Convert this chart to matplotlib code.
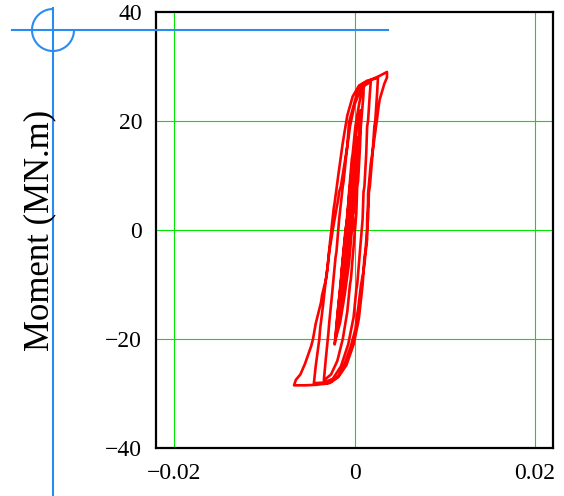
import matplotlib.pyplot as plt
from matplotlib.lines import Line2D
from matplotlib.patches import Arc

# rotation in units of 1e-3, moment in MN.m
rot_milli = [
    0.0, -0.3, 0.1, 0.3, 0.1, -0.4, -0.9, -1.2, -1.0, -0.6,
    -0.2, 0.2, 0.5, 0.3, -0.2, -0.7, -1.2, -1.6, -1.4, -1.1,
    -0.7, -0.2, 0.2, 0.6, 0.4, 0.0, -0.5, -1.0, -1.5, -1.9,
    -1.7, -1.3, -0.9, -0.5, -0.1, 0.3, 0.7, 0.5, 0.2, -0.2,
    -0.6, -1.1, -1.6, -2.1,
    -1.9, -1.5, -1.2, -0.8, -0.5, -0.1, 0.2, 0.0, -0.3, -0.6,
    -0.9, -1.3, -1.7, -1.5, -1.1, -0.8, -0.4, 0.0, 0.4, 0.2,
    -0.2, -0.5, -0.9, -1.4, -1.8, -2.2,
    # cycle 1
    -1.8, -1.5, -1.4, -1.0, -0.8, -0.6, -0.3, -0.2, 0.1, 0.5, 0.8, 1.0,
    1.0, 0.8, 0.7, 0.6, 0.4, 0.3, 0.2, -0.1, -0.4, -0.5, -0.8, -1.3, -1.9, -2.6, -3.4,
    # cycle 2
    -3.2, -2.9, -2.8, -2.5, -2.1, -2.0, -1.7, -1.3, -1.2, -0.9, -0.5, 0.0, 0.6, 1.2, 1.8,
    1.7, 1.5, 1.4, 1.3, 1.1, 1.0, 0.9, 0.6, 0.3, 0.2, -0.1, -0.7, -1.5, -2.4, -3.4, -4.5,
    # cycle 3
    -4.3, -3.9, -3.8, -3.5, -3.1, -3.0, -2.7, -2.3, -2.2, -1.8, -1.3, -1.2,
    -0.8, -0.2, 0.5, 1.4, 2.6,
    2.5, 2.3, 2.2, 2.0, 1.7, 1.6, 1.5, 1.2, 1.1, 0.9, 0.5, 0.4, -0.1, -0.9,
    -1.8, -2.8, -4.2, -5.5, -6.7,
    # cycle 4
    -6.5, -6.0, -5.5, -4.8, -4.6, -4.3, -3.7, -3.6, -3.1, -2.8, -2.7, -2.3,
    -1.8, -1.7, -1.5, -0.9, -0.8, -0.6, -0.1, 0.4, 1.2, 2.0, 2.8, 3.6,
    3.6, 3.3, 2.8, 2.7, 2.5, 2.2, 2.1, 1.8, 1.5, 1.5, 1.4, 1.4, 1.1, 1.0,
    0.7, 0.4, 0.3, 0.1, -0.4, -1.1, -1.8, -2.6, -3.3,
]
moment = [
    0, 4, 9, 12, 7, 0, -6, -10, -6, 0,
    6, 11, 15, 11, 3, -4, -10, -15, -11, -5,
    2, 9, 14, 18, 13, 6, -2, -9, -15, -18,
    -13, -6, 1, 8, 14, 19, 22, 17, 10, 2,
    -6, -12, -17, -20,
    -16, -9, -4, 2, 7, 12, 15, 11, 5, 0,
    -5, -11, -16, -12, -5, 1, 7, 12, 17, 13,
    6, 0, -6, -12, -17, -21,
    -14, -10, -7, 0, 2, 7, 13, 14, 19, 23, 25.5, 26.8,
    25, 21, 19, 15, 9, 8, 3, -3, -9, -10, -15, -20, -24, -26.5, -27.6,
    -24, -19, -17, -12, -5, -4, 2, 8, 9, 14, 19, 23, 25.5, 26.6, 27.2,
    25, 20, 19, 14, 8, 7, 2, -4, -10, -11, -16, -21, -25, -27.3, -28.0, -28.1,
    -25, -20, -18, -14, -8, -7, -2, 4, 5, 10, 16, 17,
    21, 24.5, 26.5, 27.4, 27.9,
    25, 20, 19, 14, 8, 7, 2, -4, -5, -10, -16, -17, -21, -24.8,
    -27, -28.1, -28.4, -28.5, -28.5,
    -27.5, -26.5, -24.6, -21.3, -20, -17.2, -13.2, -12, -8.6, -4.0, -3, 1.1,
    5.7, 7, 8.1, 14.3, 15.5, 19.8, 22.8, 25.9, 27.0, 27.7, 28.3, 29.0,
    28.0, 26.8, 24.0, 23, 20.4, 16.7, 15.5, 12.1, 6.6, 5, 2.0, -1.7, -6.2, -7.5,
    -10.3, -14.5, -15.5, -18.2, -21.3, -24.6, -26.8, -27.9, -28.2,
]

x_ticks = [-0.02, 0, 0.02]
x_ticklabels = ['\u22120.02', '0', '0.02']
y_ticks = [-40, -20, 0, 20, 40]
y_ticklabels = ['\u221240', '\u221220', '0', '20', '40']

plt.rcParams['font.family'] = 'serif'
plt.rcParams['font.serif'] = ['Liberation Serif', 'Times New Roman', 'DejaVu Serif']

fig = plt.figure(figsize=(5.64, 4.96), dpi=100)
ax = fig.add_axes([156 / 564, 48 / 496, 397 / 564, 436 / 496])

rot = [r * 1e-3 for r in rot_milli]
ax.plot(rot, moment, color='red', lw=1.9, zorder=3)

ax.set_xlim(-0.022, 0.022)
ax.set_ylim(-40, 40)
ax.set_xticks(x_ticks)
ax.set_xticklabels(x_ticklabels)
ax.set_yticks(y_ticks)
ax.set_yticklabels(y_ticklabels)
ax.tick_params(length=0, labelsize=17)
ax.tick_params(axis='x', pad=11)
ax.tick_params(axis='y', pad=10)

# green grid, only at the inner ticks
for xv in x_ticks:
    ax.axvline(xv, color='#00e600', lw=0.8, zorder=1)
for yv in y_ticks[1:-1]:
    ax.axhline(yv, color='#00e600', lw=0.8, zorder=1)

for s in ax.spines.values():
    s.set_linewidth(1.6)
    s.set_color('black')

fig.text(40 / 564, 1 - 230 / 496, 'Moment (MN.m)', rotation=90,
         ha='center', va='center', fontsize=25)

# crosshair cursor
blue = '#2b8cf0'
fig.add_artist(Line2D([12 / 564, 388 / 564], [1 - 30 / 496] * 2,
                      color=blue, lw=1.5, transform=fig.transFigure))
fig.add_artist(Line2D([53 / 564] * 2, [0, 1 - 8 / 496],
                      color=blue, lw=1.5, transform=fig.transFigure))
fig.add_artist(Arc((0.53, 4.96 - 0.30), 0.42, 0.42, theta1=90, theta2=360,
                   color=blue, lw=1.5, transform=fig.dpi_scale_trans))

fig.savefig('out.png', dpi=100)
